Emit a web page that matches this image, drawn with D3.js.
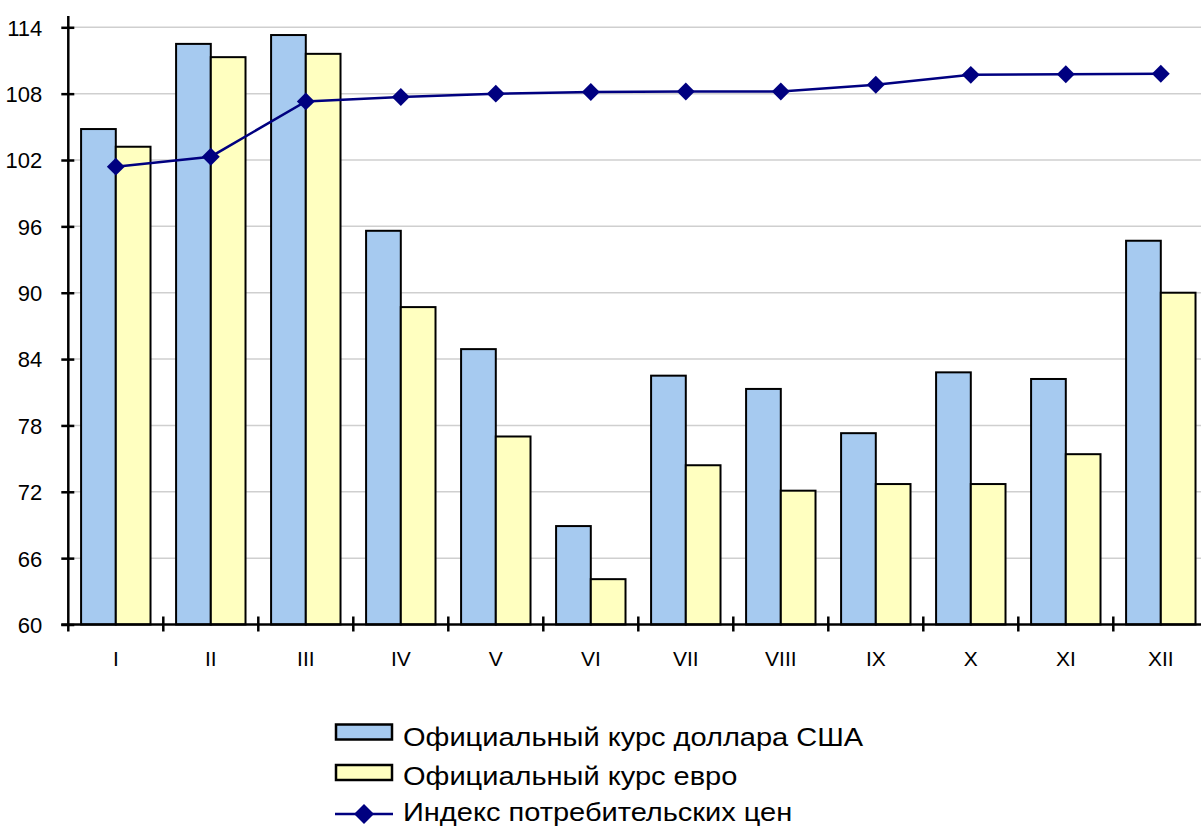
<!DOCTYPE html>
<html><head><meta charset="utf-8">
<script src="https://cdn.jsdelivr.net/npm/d3@7"></script>
<style>body{margin:0;background:#fff}svg{display:block}text{font-family:"Liberation Sans",Arial,sans-serif}</style>
</head><body>
<svg id="c" width="1201" height="828"></svg>
<script>
const months = ["I","II","III","IV","V","VI","VII","VIII","IX","X","XI","XII"];
const usd = [104.8,112.5,113.3,95.6,84.9,68.9,82.5,81.3,77.3,82.8,82.2,94.7];
const eur = [103.2,111.3,111.6,88.7,77.0,64.1,74.4,72.1,72.7,72.7,75.4,90.0];
const cpi = [101.4,102.3,107.3,107.7,108.0,108.15,108.2,108.2,108.8,109.7,109.75,109.8];
const yTicks = [60,66,72,78,84,90,96,102,108,114];
const seriesNames = ["Официальный курс доллара США","Официальный курс евро","Индекс потребительских цен"];

const svg = d3.select("#c");
const x0 = 68.3, bandW = 95;
const x = d3.scaleBand().domain(months).range([x0, x0 + bandW*months.length]).paddingInner(0).paddingOuter(0);
const xs = d3.scaleBand().domain(["usd","eur"]).range([0, x.bandwidth()]).paddingInner(0).paddingOuter(0.3684);
const y = d3.scaleLinear().domain([60,114]).range([624.5, 27.3]);

// gridlines
svg.append("g").selectAll("line").data(yTicks.slice(1)).join("line")
  .attr("x1", x0).attr("x2", 1201).attr("y1", d=>y(d)).attr("y2", d=>y(d))
  .attr("stroke","#cfcfcf").attr("stroke-width",1.5);

// bars
const g = svg.append("g");
months.forEach((m,i)=>{
  [["usd",usd[i],"#A6CAF0"],["eur",eur[i],"#FFFFC0"]].forEach(([k,v,c])=>{
    g.append("rect").attr("x", x(m)+xs(k)).attr("y", y(v))
      .attr("width", xs.bandwidth()).attr("height", y(60)-y(v))
      .attr("fill", c).attr("stroke","#000").attr("stroke-width",2);
  });
});

// y axis
const yAxis = d3.axisLeft(y).tickValues(yTicks).tickSize(6).tickPadding(20).tickSizeOuter(0);
const ya = svg.append("g").attr("transform",`translate(${x0},0)`).call(yAxis);
ya.select(".domain").remove();
ya.selectAll(".tick line").attr("x1",-7).attr("x2",6).attr("stroke","#000").attr("stroke-width",2.5);
ya.selectAll("text").attr("font-size",22).attr("fill","#000").attr("dy","0.36em");
svg.append("line").attr("x1",x0).attr("x2",x0).attr("y1",16).attr("y2",y(60)+7).attr("stroke","#000").attr("stroke-width",2.5);

// x axis
const xAxis = d3.axisBottom(x).tickSize(0).tickPadding(26);
const xa = svg.append("g").attr("transform",`translate(0,${y(60)})`).call(xAxis);
xa.select(".domain").remove();
xa.selectAll("text").attr("font-size",21).attr("fill","#000").attr("dy","0.71em").attr("y",27);
svg.append("line").attr("x1",x0-7).attr("x2",1201).attr("y1",y(60)).attr("y2",y(60)).attr("stroke","#000").attr("stroke-width",2.5);
svg.append("g").selectAll("line").data(months.slice(1)).join("line")
  .attr("x1",d=>x(d)).attr("x2",d=>x(d)).attr("y1",y(60)-8).attr("y2",y(60)+7)
  .attr("stroke","#000").attr("stroke-width",2.5);

// CPI line
const cx = m => x(m) + x.bandwidth()/2;
const line = d3.line().x((d,i)=>cx(months[i])).y(d=>y(d));
svg.append("path").datum(cpi).attr("d",line).attr("fill","none").attr("stroke","#000080").attr("stroke-width",2.5);
const diamond = d3.symbol().type(d3.symbolSquare).size(160);
svg.append("g").selectAll("path").data(cpi).join("path")
  .attr("d",diamond()).attr("transform",(d,i)=>`translate(${cx(months[i])},${y(d)}) rotate(45)`)
  .attr("fill","#000080");

// legend
const lg = svg.append("g");
const swY = [732, 772.5, 814];
const baseY = [746, 785, 821];
[["#A6CAF0"],["#FFFFC0"]].forEach(([c],i)=>{
  lg.append("rect").attr("x",336).attr("y",swY[i]-7.5).attr("width",56).attr("height",15)
    .attr("fill",c).attr("stroke","#000").attr("stroke-width",2.5);
});
lg.append("line").attr("x1",335).attr("x2",393).attr("y1",swY[2]).attr("y2",swY[2]).attr("stroke","#000080").attr("stroke-width",2.5);
lg.append("path").attr("d",d3.symbol().type(d3.symbolSquare).size(200)()).attr("transform",`translate(364,${swY[2]}) rotate(45)`).attr("fill","#000080");
seriesNames.forEach((s,i)=>{
  const t = lg.append("text").attr("x",403).attr("y",baseY[i]).attr("font-size",25).attr("fill","#000").text(s);
  const L = t.node().getComputedTextLength();
  t.attr("textLength", L*1.16).attr("lengthAdjust","spacingAndGlyphs");
});
</script>
</body></html>
